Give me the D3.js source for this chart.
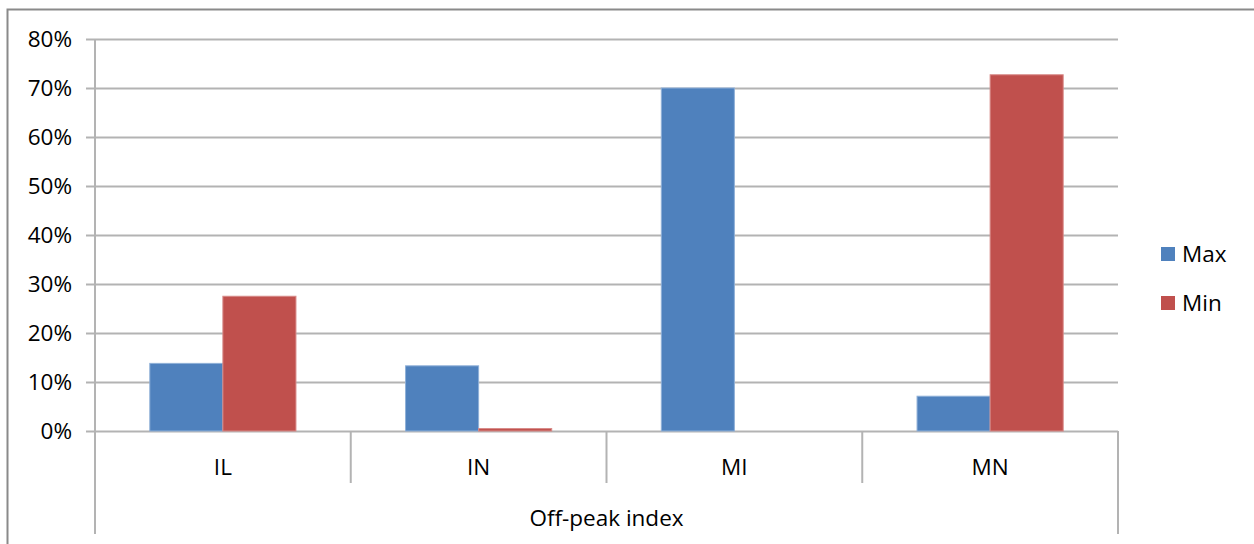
<!DOCTYPE html>
<html><head><meta charset="utf-8">
<script src="https://cdn.jsdelivr.net/npm/d3@7"></script>
<style>body{margin:0;background:#fff}svg{display:block}text{font-family:"Open Sans",Lato,sans-serif;fill:#000}</style>
</head><body><svg id="c" width="1254" height="544"></svg>
<script>
const categories = ["IL","IN","MI","MN"];
const seriesNames = ["Max","Min"];
const maxValues = [0.138,0.133,0.70,0.071];
const minValues = [0.275,0.005,0,0.727];
const yTicks = [0,0.1,0.2,0.3,0.4,0.5,0.6,0.7,0.8];
const axisTitle = "Off-peak index";
const colors = ["#4F81BD","#C0504D"];
const FS = "22.5px";

const svg = d3.select("#c");
const L = 95, R = 1118, T = 39, B = 431;
// chart frame
svg.append("path").attr("d","M7.5,544 V9.5 H1254").attr("fill","none").attr("stroke","#8a8a8a").attr("stroke-width",2);

const y = d3.scaleLinear().domain([0,0.8]).range([B,T]);
const x0 = d3.scaleBand().domain(categories).range([L,R]).paddingInner(0).paddingOuter(0);
const bw = x0.bandwidth()/3.5;
const x1 = d3.scaleBand().domain(seriesNames).range([0,2*bw]);

// gridlines + y axis
const ya = d3.axisLeft(y).tickValues(yTicks).tickFormat(d3.format(".0%")).tickSize(-(R-L)).tickPadding(-1);
const gy = svg.append("g").attr("transform",`translate(${L},0)`).call(ya);
gy.select(".domain").remove();
gy.selectAll(".tick line").attr("stroke","#b3b3b3").attr("stroke-width",2).attr("x1",-9).attr("x2",R-L);
gy.selectAll(".tick text").attr("x",-23).style("font-size",FS).attr("dy","0.35em");

// vertical axis line and category separators
svg.append("line").attr("x1",L).attr("x2",L).attr("y1",T).attr("y2",534).attr("stroke","#b3b3b3").attr("stroke-width",2);
svg.append("line").attr("x1",R).attr("x2",R).attr("y1",B).attr("y2",534).attr("stroke","#b3b3b3").attr("stroke-width",2);
categories.slice(1).forEach(c=>{
  svg.append("line").attr("x1",x0(c)).attr("x2",x0(c)).attr("y1",B).attr("y2",483).attr("stroke","#b3b3b3").attr("stroke-width",2);
});

// bars
const data = categories.map((c,i)=>({c, vals:[maxValues[i],minValues[i]]}));
const g = svg.append("g");
data.forEach(d=>{
  d.vals.forEach((v,j)=>{
    const xx = x0(d.c) + (x0.bandwidth()-2*bw)/2 + x1(seriesNames[j]);
    g.append("rect").attr("x",xx).attr("width",bw).attr("y",y(v)).attr("height",B-y(v))
      .attr("fill",colors[j]).attr("stroke",v>0?(j===0?"#8fb0d8":"#d88a88"):"none").attr("stroke-width",1);
  });
});

// category labels
categories.forEach(c=>{
  svg.append("text").attr("x",x0(c)+x0.bandwidth()/2).attr("y",475).attr("text-anchor","middle").style("font-size",FS).text(c);
});
svg.append("text").attr("x",(L+R)/2).attr("y",526).attr("text-anchor","middle").style("font-size",FS).text(axisTitle);

// legend
seriesNames.forEach((s,i)=>{
  const ly = 254 + i*49;
  svg.append("rect").attr("x",1161).attr("y",ly-7).attr("width",14).attr("height",14).attr("fill",colors[i]);
  svg.append("text").attr("x",1182).attr("y",ly).attr("dy","0.35em").style("font-size",FS).text(s);
});
</script></body></html>
